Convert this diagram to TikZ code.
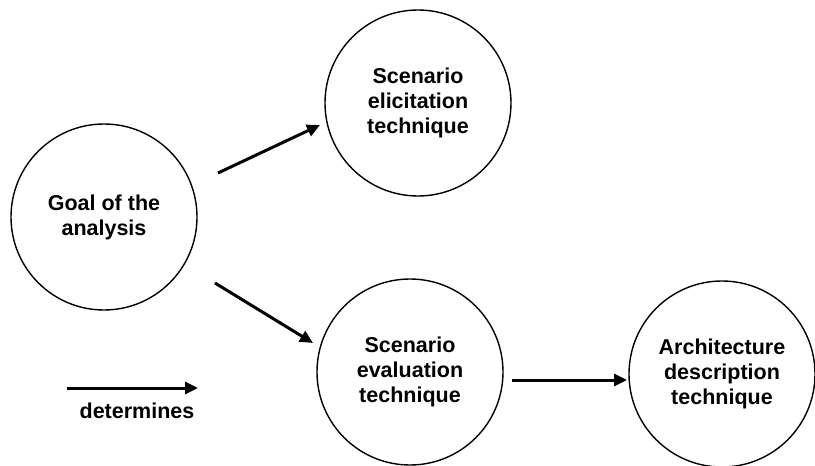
\documentclass[tikz,border=0pt]{standalone}
\usepackage{fontspec}
\setmainfont{Liberation Sans}
\usetikzlibrary{arrows.meta}
\begin{document}
\begin{tikzpicture}[x=1pt,y=-1pt,
  bubble/.style={circle,draw,line width=1.4pt,minimum size=186pt,inner sep=0pt,
    align=center,font=\fontsize{21.5}{25}\bfseries\selectfont},
  flow/.style={line width=3pt,-{Triangle[length=13pt,width=12pt]}},
  caption/.style={font=\fontsize{21.5}{25}\bfseries\selectfont}]
\useasboundingbox (0,0) rectangle (815,466);
\fill[white] (0,0) rectangle (815,466);

% the four techniques
\node[bubble] (goal) at (104,217) {Goal of the\\analysis};
\node[bubble] (elic) at (418,103) {Scenario\\elicitation\\technique};
\node[bubble] (eval) at (410,372) {Scenario\\evaluation\\technique};
\node[bubble] (arch) at (722,374) {Architecture\\description\\technique};

% "determines" relations
\draw[flow] ([shift={(114,-44)}]goal.center) -- ([shift={(-98,22)}]elic.center);
\draw[flow] ([shift={(111,66)}]goal.center) -- ([shift={(-97,-29)}]eval.center);
\draw[flow] ([shift={(102,8)}]eval.center) -- ([shift={(-95,6)}]arch.center);

% legend
\coordinate (legA) at (67,388);
\coordinate (legB) at (198,388);
\draw[flow] (legA) -- (legB);
\node[caption] (legtext) at (137,411) {determines};
\end{tikzpicture}
\end{document}
